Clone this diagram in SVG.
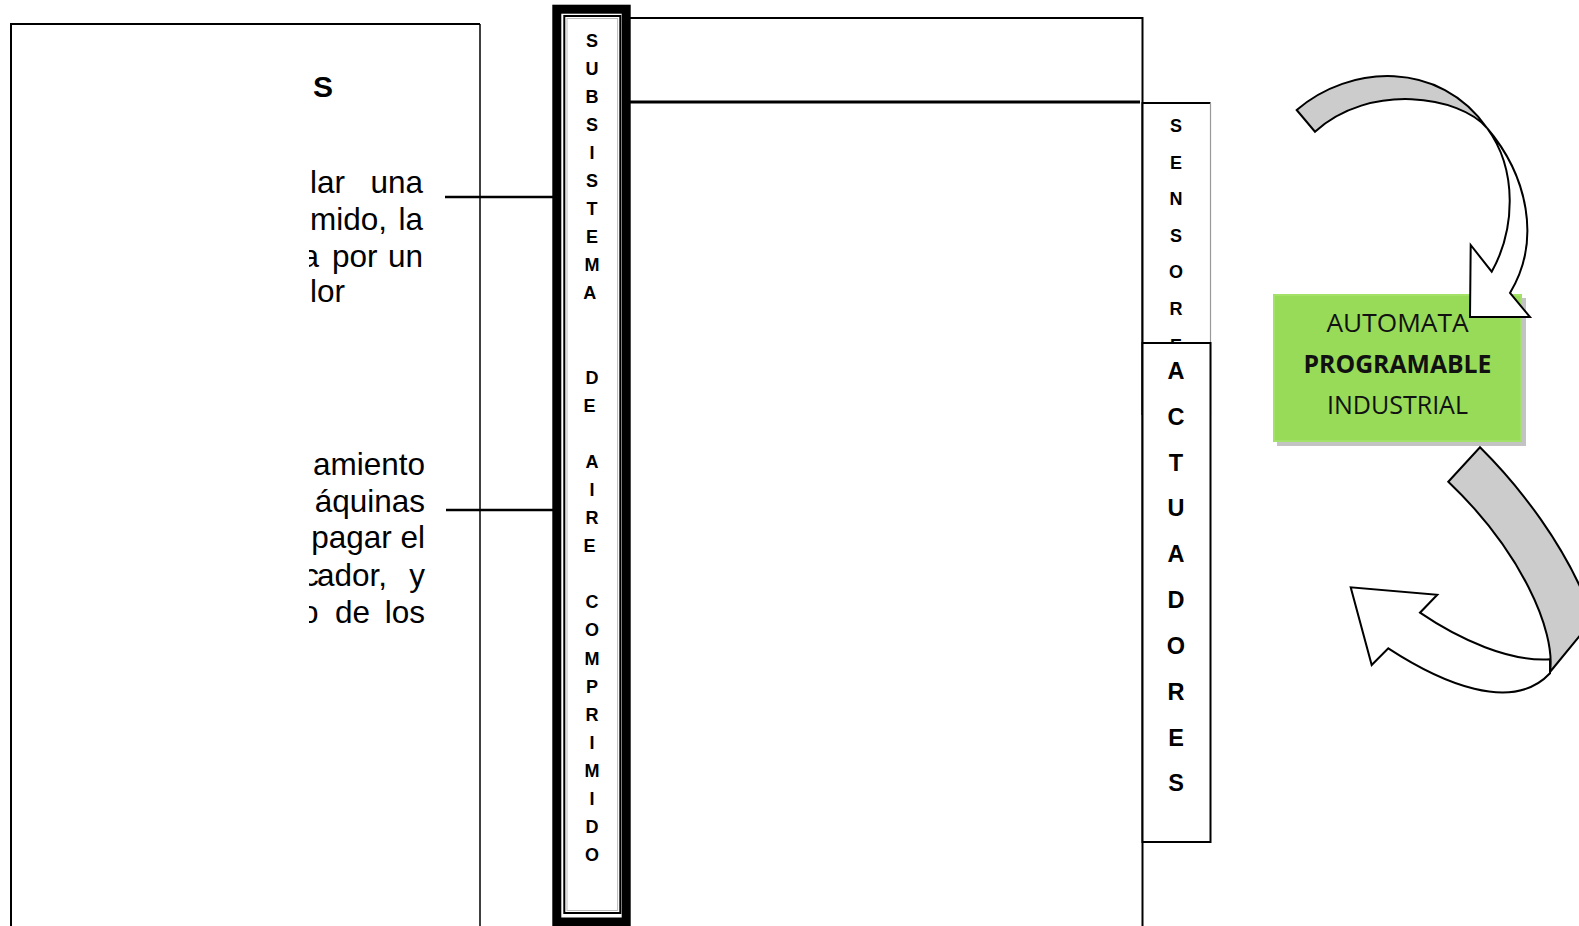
<svg xmlns="http://www.w3.org/2000/svg" width="1579" height="926" viewBox="0 0 1579 926">
<style>
.body{font-family:"Liberation Sans",Arial,sans-serif;font-size:31.5px;fill:#000}
.hd{font-family:"Liberation Sans",Arial,sans-serif;font-size:30px;font-weight:bold;fill:#000}
.vt{font-family:"Liberation Sans",Arial,sans-serif;font-size:18px;font-weight:bold;fill:#000;text-anchor:middle}
.vs{font-family:"Liberation Sans",Arial,sans-serif;font-size:18px;font-weight:bold;fill:#000;text-anchor:middle}
.va{font-family:"Liberation Sans",Arial,sans-serif;font-size:23.5px;font-weight:bold;fill:#000;text-anchor:middle}
.gt{font-family:"Open Sans","Noto Sans",sans-serif;font-size:25px;fill:#111;text-anchor:middle}
.box{fill:#fff;stroke:#000;stroke-width:2}
.conn{stroke:#000;stroke-width:2.5;fill:none}
.arrw{fill:#fff;stroke:#000;stroke-width:2;stroke-linejoin:miter}
.arrg{fill:#cccccc;stroke:#000;stroke-width:2;stroke-linejoin:miter}
</style>
<defs>
<clipPath id="clipL"><rect x="309" y="0" width="200" height="926"/></clipPath>
</defs>
<rect width="1579" height="926" fill="#fff"/>

<g id="node-left">
<path d="M11,930 V24 H480" fill="#fff" stroke="#000" stroke-width="2"/>
<line x1="480" y1="24" x2="480" y2="930" stroke="#000" stroke-width="1.5"/>
<g clip-path="url(#clipL)">
<text class="hd" x="313" y="97">S</text>
<text class="body" x="310" y="193">lar</text>
<text class="body" x="423" y="193" text-anchor="end">una</text>
<text class="body" x="310" y="230">mido,</text>
<text class="body" x="423" y="230" text-anchor="end">la</text>
<text class="body" x="301.6" y="267">a</text>
<text class="body" x="332" y="267">por</text>
<text class="body" x="423" y="267" text-anchor="end">un</text>
<text class="body" x="310" y="302">lor</text>
<text class="body" x="425" y="475" text-anchor="end">amiento</text>
<text class="body" x="425" y="512" text-anchor="end">áquinas</text>
<text class="body" x="425" y="548" text-anchor="end">pagar el</text>
<text class="body" x="303" y="586">c</text>
<text class="body" x="317" y="586">ador,</text>
<text class="body" x="425" y="586" text-anchor="end">y</text>
<text class="body" x="301" y="623">o</text>
<text class="body" x="335" y="623">de</text>
<text class="body" x="425" y="623" text-anchor="end">los</text>
</g>
</g>

<g id="node-main">
<path d="M627,18 H1142.5 V930" fill="#fff" stroke="#000" stroke-width="2"/>
<line x1="627" y1="102" x2="1140" y2="102" stroke="#000" stroke-width="3"/>
</g>

<g id="node-subsistema">
<rect x="556.8" y="9.2" width="69.4" height="912.8" fill="#fff" stroke="#000" stroke-width="9"/>
<rect x="564.3" y="16" width="56" height="897" fill="none" stroke="#000" stroke-width="2"/>
<rect x="567" y="18.5" width="50.6" height="892" fill="none" stroke="#bbb" stroke-width="1"/>
<text class="vt">
<tspan x="592" y="46.7">S</tspan><tspan x="592" y="74.8">U</tspan><tspan x="592" y="102.9">B</tspan><tspan x="592" y="130.9">S</tspan><tspan x="592" y="159">I</tspan><tspan x="592" y="187.1">S</tspan><tspan x="592" y="215.2">T</tspan><tspan x="592" y="243.3">E</tspan><tspan x="592" y="271.3">M</tspan><tspan x="592" y="299.4">A</tspan>
<tspan x="592" y="383.7">D</tspan><tspan x="592" y="411.7">E</tspan>
<tspan x="592" y="467.9">A</tspan><tspan x="592" y="496">I</tspan><tspan x="592" y="524.1">R</tspan><tspan x="592" y="552.1">E</tspan>
<tspan x="592" y="608.3">C</tspan><tspan x="592" y="636.4">O</tspan><tspan x="592" y="664.5">M</tspan><tspan x="592" y="692.5">P</tspan><tspan x="592" y="720.6">R</tspan><tspan x="592" y="748.7">I</tspan><tspan x="592" y="776.8">M</tspan><tspan x="592" y="804.9">I</tspan><tspan x="592" y="832.9">D</tspan><tspan x="592" y="861">O</tspan>
</text>
</g>

<g id="node-sensores">
<rect x="1142.5" y="103" width="68" height="312" fill="#fff" stroke="none"/>
<path d="M1142.5,415 V103 H1210.5" fill="none" stroke="#000" stroke-width="2"/>
<line x1="1210.5" y1="103" x2="1210.5" y2="415" stroke="#999" stroke-width="1.2"/>
<text class="vs">
<tspan x="1176" y="132.2">S</tspan><tspan x="1176" y="168.8">E</tspan><tspan x="1176" y="205.3">N</tspan><tspan x="1176" y="241.9">S</tspan><tspan x="1176" y="278.4">O</tspan><tspan x="1176" y="315">R</tspan><tspan x="1176" y="351.5">E</tspan>
</text>
</g>

<g id="node-actuadores">
<rect class="box" x="1142.5" y="343" width="68" height="499" stroke-width="1.8"/>
<text class="va">
<tspan x="1176" y="378.8">A</tspan><tspan x="1176" y="424.6">C</tspan><tspan x="1176" y="470.5">T</tspan><tspan x="1176" y="516.3">U</tspan><tspan x="1176" y="562.2">A</tspan><tspan x="1176" y="608">D</tspan><tspan x="1176" y="653.8">O</tspan><tspan x="1176" y="699.7">R</tspan><tspan x="1176" y="745.5">E</tspan><tspan x="1176" y="791.4">S</tspan>
</text>
</g>

<g id="node-automata">
<rect x="1277" y="298" width="249" height="148" fill="#c3c3c3"/>
<rect x="1273" y="294" width="249" height="148" fill="#98db58"/>
<rect x="1274" y="295" width="247" height="146" fill="none" stroke="#a6e36c" stroke-width="1.5"/>
<text class="gt" x="1397.5" y="332" textLength="142" lengthAdjust="spacingAndGlyphs">AUTOMATA</text>
<text class="gt" x="1397.5" y="373" font-weight="bold" textLength="188" lengthAdjust="spacingAndGlyphs">PROGRAMABLE</text>
<text class="gt" x="1397.5" y="414" textLength="141" lengthAdjust="spacingAndGlyphs">INDUSTRIAL</text>
</g>

<g id="connectors">
<line class="conn" x1="445" y1="197" x2="553" y2="197"/>
<line class="conn" x1="446" y1="510" x2="553" y2="510"/>
<g id="arrow-top">
<path class="arrg" d="M1296.7,110 C1350,64 1440,60 1487,128 C1460,96 1370,82 1315,131.7 Z"/>
<path class="arrw" d="M1487,128 C1527,175 1542,240 1510,293 L1530,317 L1470,317 L1470.7,245 L1491.7,271.7 C1515,230 1518,170 1487,128 Z"/>
</g>
<g id="arrow-bottom">
<path class="arrg" d="M1448.3,481.7 L1480,447.3 C1520,487 1565,545 1590,610 L1590,625 L1579,636.7 L1550,672 C1556,630 1520,550 1448.3,481.7 Z"/>
<path class="arrw" d="M1550,659.3 C1510,662 1460,640 1420,612.7 L1437.3,594.7 L1350.7,587.3 L1371.7,665 L1388.3,648.3 C1440,682 1512,714 1550,673.3 Z"/>
</g>
</g>
</svg>
